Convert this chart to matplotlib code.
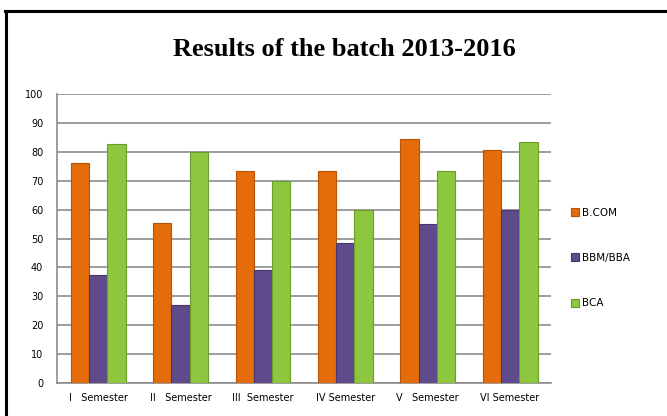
import numpy as np
import matplotlib.pyplot as plt
from matplotlib.lines import Line2D

# data
semesters = ['I   Semester', 'II   Semester', 'III  Semester',
             'IV Semester', 'V   Semester', 'VI Semester']
bcom = [76, 55.5, 73.5, 73.5, 84.5, 80.5]
bbm_bba = [37.5, 27, 39, 48.5, 55, 60]
bca = [82.8, 80, 70, 60, 73.5, 83.3]

series = ['B.COM', 'BBM/BBA', 'BCA']
colors = ['#E46C0A', '#5F4A8B', '#8DC63F']
edges = ['#B65307', '#47366B', '#6C9C2C']

fig = plt.figure(figsize=(6.67, 4.16), dpi=100)
ax = fig.add_axes([0.0855, 0.079, 0.741, 0.695])

x = np.arange(len(semesters))
w = 0.222
for k, vals in enumerate([bcom, bbm_bba, bca]):
    ax.bar(x + (k - 1) * w, vals, w, color=colors[k], edgecolor=edges[k],
           linewidth=0.8, label=series[k], zorder=3)

ax.set_xlim(-0.5, len(semesters) - 0.5)
ax.set_ylim(0, 100)
ax.set_yticks(range(0, 101, 10))
ax.set_xticks(x)
ax.set_xticklabels(semesters)
ax.tick_params(axis='both', length=0, labelsize=7, colors='black')
ax.tick_params(axis='y', pad=10)
ax.tick_params(axis='x', pad=7)
ax.yaxis.grid(True, color='#8C8C8C', linewidth=1.2, zorder=0)
for s in ['top', 'right']:
    ax.spines[s].set_visible(False)
ax.spines['left'].set_color('#8C8C8C')
ax.spines['bottom'].set_color('#8C8C8C')
ax.spines['left'].set_linewidth(1.2)
ax.spines['bottom'].set_linewidth(1.2)

fig.text(0.517, 0.866, 'Results of the batch 2013-2016', ha='center', va='baseline',
         fontsize=19, fontweight='bold', family='Liberation Serif')

ax.legend(loc='center left', bbox_to_anchor=(1.02, 0.433), frameon=False,
          fontsize=7.5, handlelength=0.8, handleheight=0.8, handletextpad=0.3,
          labelspacing=3.4)

# frame: only the left and top edges show in the crop
fig.add_artist(Line2D([0.009, 0.009], [0, 0.974], transform=fig.transFigure,
                      color='black', linewidth=2.2))
fig.add_artist(Line2D([0.008, 1], [0.974, 0.974], transform=fig.transFigure,
                      color='black', linewidth=2.2))

fig.savefig('out.png', dpi=100)
